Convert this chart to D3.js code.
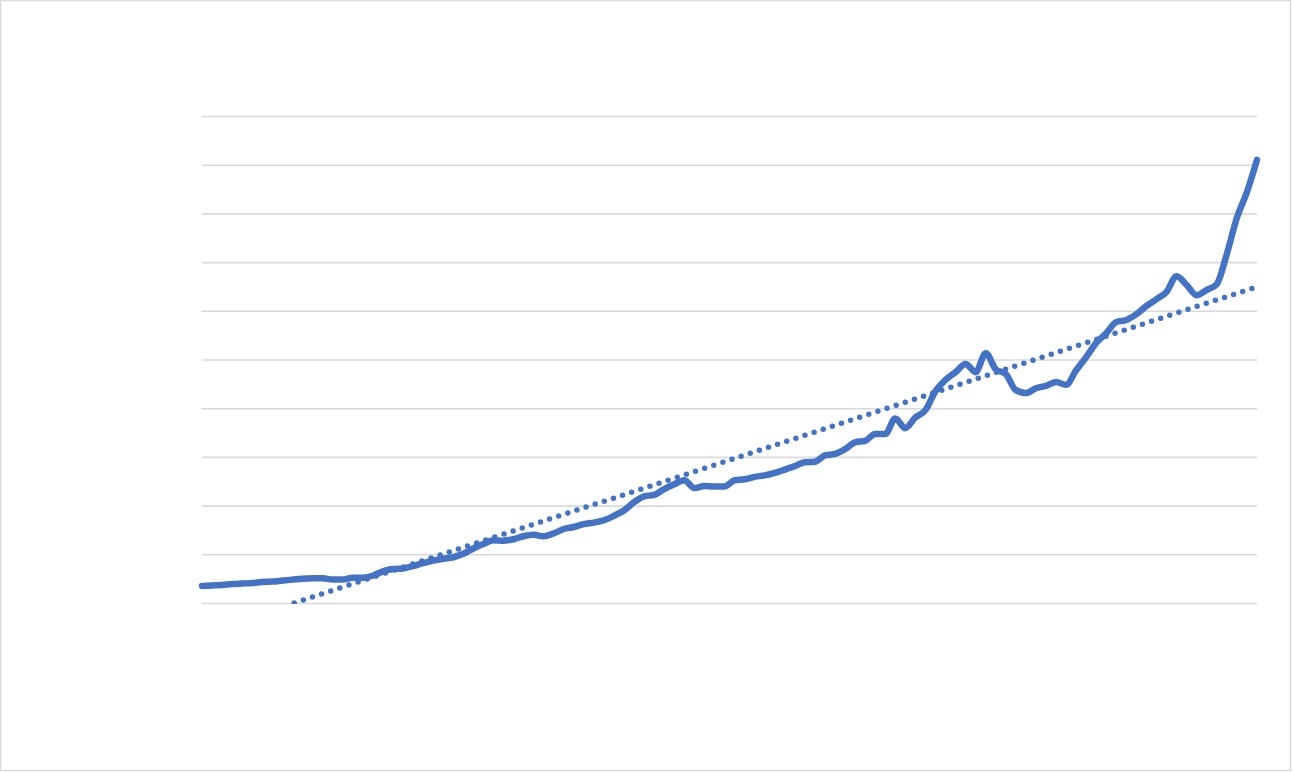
<!DOCTYPE html>
<html>
<head>
<meta charset="utf-8">
<script src="https://cdn.jsdelivr.net/npm/d3@7"></script>
<style>
  html, body { margin: 0; padding: 0; background: #ffffff; }
  svg { display: block; }
</style>
</head>
<body>
<svg id="chart" width="1293" height="773"></svg>
<script>
// ---- DATA (units = gridline steps) ----
const yTicks = [0, 1, 2, 3, 4, 5, 6, 7, 8, 9, 10];
const seriesValues = [
  0.35, 0.36, 0.37, 0.39, 0.40, 0.41, 0.43, 0.44, 0.46, 0.48,
  0.50, 0.51, 0.51, 0.48, 0.48, 0.52, 0.52, 0.56, 0.65, 0.70,
  0.71, 0.76, 0.82, 0.87, 0.91, 0.94, 1.01, 1.12, 1.21, 1.29,
  1.28, 1.31, 1.37, 1.40, 1.37, 1.43, 1.52, 1.56, 1.62, 1.65,
  1.70, 1.79, 1.90, 2.07, 2.19, 2.22, 2.34, 2.44, 2.52, 2.36,
  2.40, 2.39, 2.39, 2.52, 2.54, 2.59, 2.62, 2.67, 2.74, 2.81,
  2.89, 2.90, 3.03, 3.06, 3.16, 3.30, 3.33, 3.47, 3.47, 3.79,
  3.59, 3.81, 3.96, 4.35, 4.58, 4.74, 4.91, 4.74, 5.13, 4.80,
  4.70, 4.37, 4.31, 4.41, 4.46, 4.54, 4.48, 4.78, 5.05, 5.34,
  5.54, 5.77, 5.81, 5.93, 6.10, 6.24, 6.39, 6.71, 6.53, 6.32,
  6.43, 6.55, 7.17, 7.91, 8.44, 9.10
];
const categories = seriesValues.map((d, i) => i + 1);

// ---- LAYOUT ----
const W = 1293, H = 773;
const plot = { left: 202, right: 1257, top: 116, bottom: 603 };
const blue = "#4472C4";

const svg = d3.select("#chart");

// chart area border
svg.append("rect")
  .attr("x", 0.5).attr("y", 0.5)
  .attr("width", 1290).attr("height", 770)
  .attr("fill", "#ffffff")
  .attr("stroke", "#D9D9D9")
  .attr("stroke-width", 1.5);

const x = d3.scaleLinear()
  .domain([categories[0], categories[categories.length - 1]])
  .range([plot.left, plot.right]);
const y = d3.scaleLinear()
  .domain([yTicks[0], yTicks[yTicks.length - 1]])
  .range([plot.bottom, plot.top]);

// gridlines via axis
const grid = svg.append("g")
  .attr("transform", `translate(${plot.left},0)`)
  .call(d3.axisLeft(y).tickValues(yTicks)
    .tickSize(-(plot.right - plot.left)).tickFormat(""));
grid.select(".domain").remove();
grid.selectAll(".tick line")
  .attr("stroke", "#D9D9D9")
  .attr("stroke-width", 1.6);

// clip to plot area
svg.append("defs").append("clipPath").attr("id", "plotclip")
  .append("rect")
  .attr("x", plot.left - 4).attr("y", plot.top - 10)
  .attr("width", plot.right - plot.left + 8)
  .attr("height", plot.bottom - plot.top + 11);

// linear trendline (least squares on the series)
const n = seriesValues.length;
const mx = d3.mean(categories), my = d3.mean(seriesValues);
let sxy = 0, sxx = 0;
for (let i = 0; i < n; i++) {
  sxy += (categories[i] - mx) * (seriesValues[i] - my);
  sxx += (categories[i] - mx) * (categories[i] - mx);
}
const slope = sxy / sxx, intercept = my - slope * mx;
const x0 = categories[0], x1 = categories[n - 1];
const xStart = Math.max(x0, (yTicks[0] - intercept) / slope);
const trendPts = [[xStart, intercept + slope * xStart], [x1, intercept + slope * x1]];

svg.append("g").attr("clip-path", "url(#plotclip)")
  .append("path")
  .datum(trendPts)
  .attr("d", d3.line().x(d => x(d[0])).y(d => y(d[1])))
  .attr("fill", "none")
  .attr("stroke", blue)
  .attr("stroke-width", 5.5)
  .attr("stroke-linecap", "round")
  .attr("stroke-dasharray", "0,9.6");

// main series line
svg.append("path")
  .datum(seriesValues)
  .attr("d", d3.line()
    .x((d, i) => x(categories[i]))
    .y(d => y(d))
    .curve(d3.curveMonotoneX))
  .attr("fill", "none")
  .attr("stroke", blue)
  .attr("stroke-width", 6.5)
  .attr("stroke-linejoin", "round")
  .attr("stroke-linecap", "round");
</script>
</body>
</html>
